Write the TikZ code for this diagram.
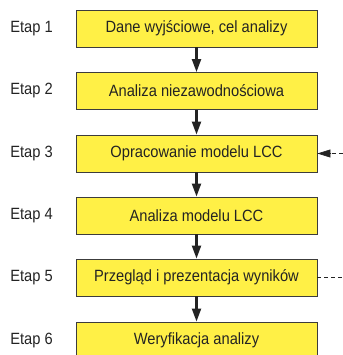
\documentclass[tikz,border=0pt]{standalone}
\usepackage{fontspec}
\setmainfont[FakeStretch=0.9]{Liberation Sans}
\usetikzlibrary{arrows.meta}
\definecolor{boxyellow}{RGB}{255,240,70}
\definecolor{boxborder}{RGB}{60,60,60}
\definecolor{inktext}{RGB}{35,35,35}
\begin{document}
\begin{tikzpicture}[x=1pt,y=-1pt,
  stagebox/.style={draw=boxborder,line width=0.9pt,fill=boxyellow,minimum width=241pt,minimum height=37pt,inner sep=0pt,text=inktext,font=\fontsize{16.3}{18}\selectfont},
  etaplabel/.style={font=\fontsize{16.3}{18}\selectfont,inner sep=0pt,text=inktext},
  flow/.style={draw=inktext,line width=2.2pt,-{Triangle[length=13pt,width=9pt]}},
  feedback/.style={draw=inktext,line width=0.7pt,dashed,dash pattern=on 4pt off 3pt}]
\useasboundingbox (0,0) rectangle (342,355);
\node[stagebox] (b1) at (196.5,28.5) {Dane wyjściowe, cel analizy};
\node[stagebox] (b2) at (196.5,91) {Analiza niezawodnościowa};
\node[stagebox] (b3) at (196.5,153.5) {Opracowanie modelu LCC};
\node[stagebox] (b4) at (196.5,215.5) {Analiza modelu LCC};
\node[stagebox] (b5) at (196.5,277.5) {Przegląd i prezentacja wyników};
\node[stagebox] (b6) at (196.5,340.5) {Weryfikacja analizy};
\foreach \i in {1,...,6} {\node[etaplabel] (e\i) at (31.5,0 |- b\i) {Etap \i};}
\draw[flow] (b1) -- (b2);
\draw[flow] (b2) -- (b3);
\draw[flow] (b3) -- (b4);
\draw[flow] (b4) -- (b5);
\draw[flow] (b5) -- (b6);
\coordinate (fin) at (343,153.5);
\coordinate (fout) at (343,277.5);
\draw[feedback] (fin) -- (b3.east);
\draw[draw=inktext,fill=inktext,-{Triangle[length=13pt,width=8pt]},line width=0.7pt] ([xshift=14pt]b3.east) -- (b3.east);
\draw[feedback] (b5.east) -- (fout);
\end{tikzpicture}
\end{document}
